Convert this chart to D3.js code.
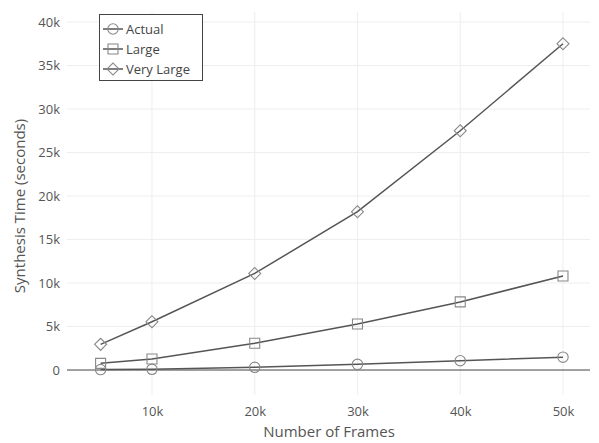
<!DOCTYPE html>
<html><head><meta charset="utf-8">
<script src="https://cdn.jsdelivr.net/npm/d3@7"></script>
<style>body{margin:0;background:#fff}svg{display:block;font-family:"Open Sans",sans-serif}</style>
</head><body><svg id="c" width="599" height="443"></svg>
<script>
const frames = [5000, 10000, 20000, 30000, 40000, 50000];
const actual = [50, 80, 310, 650, 1070, 1480];
const large = [770, 1260, 3070, 5290, 7830, 10800];
const veryLarge = [2950, 5550, 11100, 18200, 27500, 37500];
const seriesNames = ["Actual", "Large", "Very Large"];
const seriesSymbols = ["circle", "square", "diamond"];
const xTicks = [10000, 20000, 30000, 40000, 50000];
const yTicks = [0, 5000, 10000, 15000, 20000, 25000, 30000, 35000, 40000];

const svg = d3.select("#c");
const L = 67, R = 590, T = 12, B = 395;
const x = d3.scaleLinear().domain([1730, 52630]).range([L, R]);
const y = d3.scaleLinear().domain([-2870, 41150]).range([B, T]);
const fmt = v => v === 0 ? "0" : (v / 1000) + "k";

svg.append("g").selectAll("line").data(xTicks).join("line")
  .attr("x1", d => x(d)).attr("x2", d => x(d)).attr("y1", T).attr("y2", B)
  .attr("stroke", "#eee").attr("stroke-width", 1);
svg.append("g").selectAll("line").data(yTicks.filter(d => d !== 0)).join("line")
  .attr("x1", L).attr("x2", R).attr("y1", d => y(d)).attr("y2", d => y(d))
  .attr("stroke", "#eee").attr("stroke-width", 1);
svg.append("line").attr("x1", L).attr("x2", R).attr("y1", y(0)).attr("y2", y(0))
  .attr("stroke", "#444").attr("stroke-width", 1);

const xAxis = svg.append("g").attr("transform", `translate(0,${B})`)
  .call(d3.axisBottom(x).tickValues(xTicks).tickFormat(fmt).tickSize(0).tickPadding(12));
const yAxis = svg.append("g").attr("transform", `translate(${L},0)`)
  .call(d3.axisLeft(y).tickValues(yTicks).tickFormat(fmt).tickSize(0).tickPadding(7));
[xAxis, yAxis].forEach(a => {
  a.select(".domain").remove();
  a.selectAll("text").attr("fill", "#555").style("font-size", "13px").style("font-family", "'Open Sans',sans-serif");
});

svg.append("text").attr("x", 329).attr("y", 432).attr("dy", "0.35em").attr("text-anchor", "middle")
  .attr("fill", "#555").style("font-size", "15px").text("Number of Frames");
svg.append("text").attr("transform", `translate(25,206) rotate(-90)`)
  .attr("text-anchor", "middle").attr("fill", "#555").style("font-size", "15px")
  .text("Synthesis Time (seconds)");

const symMap = { circle: d3.symbolCircle, square: d3.symbolSquare, diamond: d3.symbolSquare };
const symSize = { circle: 85, square: 100, diamond: 72 };
const symRot = { circle: 0, square: 0, diamond: 45 };
const data = [actual, large, veryLarge];
const line = d3.line().x((d, i) => x(frames[i])).y(d => y(d));

data.forEach((vals, k) => {
  const s = seriesSymbols[k];
  const g = svg.append("g");
  g.append("path").datum(vals).attr("d", line).attr("fill", "none")
    .attr("stroke", "#555").attr("stroke-width", 1.5);
  g.selectAll("path.m").data(vals).join("path").attr("class", "m")
    .attr("transform", (d, i) => `translate(${x(frames[i])},${y(d)}) rotate(${symRot[s]})`)
    .attr("d", d3.symbol().type(symMap[s]).size(symSize[s]))
    .attr("fill", "none").attr("stroke", "#888").attr("stroke-width", 1.1);
});

const lg = svg.append("g");
lg.append("rect").attr("x", 99.5).attr("y", 14.5).attr("width", 103).attr("height", 66)
  .attr("fill", "#fff").attr("stroke", "#444").attr("stroke-width", 1);
seriesNames.forEach((n, k) => {
  const s = seriesSymbols[k];
  const yy = 29 + k * 20;
  lg.append("line").attr("x1", 103).attr("x2", 123).attr("y1", yy).attr("y2", yy)
    .attr("stroke", "#555").attr("stroke-width", 1.5);
  lg.append("path").attr("transform", `translate(113,${yy}) rotate(${symRot[s]})`)
    .attr("d", d3.symbol().type(symMap[s]).size(symSize[s]))
    .attr("fill", "none").attr("stroke", "#888").attr("stroke-width", 1.1);
  lg.append("text").attr("x", 126).attr("y", yy).attr("dy", "0.35em")
    .attr("fill", "#444").style("font-size", "13px").text(n);
});
</script></body></html>
